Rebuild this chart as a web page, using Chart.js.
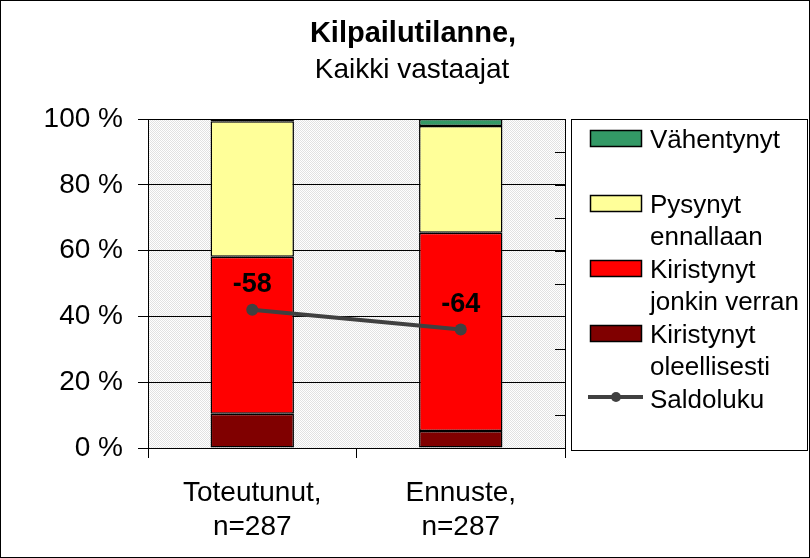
<!DOCTYPE html>
<html lang="fi">
<head>
<meta charset="UTF-8">
<title>Kilpailutilanne</title>
<script src="https://cdn.jsdelivr.net/npm/chart.js"></script>
<style>
  body { margin: 0; background: #fff; }
  #wrap { width: 810px; height: 558px; }
</style>
</head>
<body>
<div id="wrap"><canvas id="chart" width="810" height="558"></canvas></div>
<script>
// data
const categories = [['Toteutunut,', 'n=287'], ['Ennuste,', 'n=287']];
const oleellisesti = [10.4, 5.2];
const jonkinVerran = [47.7, 60.2];
const ennallaan = [41.2, 32.5];
const vahentynyt = [0.7, 2.1];
const saldoluku = [-58, -64];
const yTicks = [0, 20, 40, 60, 80, 100];

const FONT = "'Liberation Sans', Arial, sans-serif";
Chart.defaults.font.family = FONT;
Chart.defaults.color = '#000';

// stippled plot background like Excel's 5% pattern
const pc = document.createElement('canvas');
pc.width = 2; pc.height = 2;
const pctx = pc.getContext('2d');
pctx.fillStyle = '#fff'; pctx.fillRect(0, 0, 2, 2);
pctx.fillStyle = '#e2e2e2'; pctx.fillRect(0, 0, 1, 1); pctx.fillRect(1, 1, 1, 1);
const ctx = document.getElementById('chart').getContext('2d');
const pattern = ctx.createPattern(pc, 'repeat');

// legend order as in the picture
const legendItems = [
  { ds: 3, lines: ['Vähentynyt'] },
  { ds: 2, lines: ['Pysynyt', 'ennallaan'] },
  { ds: 1, lines: ['Kiristynyt', 'jonkin verran'] },
  { ds: 0, lines: ['Kiristynyt', 'oleellisesti'] },
  { ds: 4, lines: ['Saldoluku'] }
];

const extras = {
  id: 'extras',
  beforeDraw(chart) {
    const { ctx, chartArea: a } = chart;
    ctx.save();
    ctx.fillStyle = pattern;
    ctx.fillRect(a.left, a.top, a.right - a.left, a.bottom - a.top);
    ctx.restore();
  },
  afterDatasetsDraw(chart) {
    const { ctx } = chart;
    const meta = chart.getDatasetMeta(4);
    ctx.save();
    ctx.font = 'bold 27px ' + FONT;
    ctx.fillStyle = '#000';
    ctx.textAlign = 'center';
    ctx.textBaseline = 'middle';
    meta.data.forEach((pt, i) => {
      ctx.fillText(String(saldoluku[i]), pt.x, pt.y - 25);
    });
    ctx.restore();
  },
  afterDraw(chart) {
    const { ctx, chartArea: a } = chart;
    ctx.save();

    // inner ticks of the right axis
    const y2 = chart.scales.y2;
    ctx.strokeStyle = '#000';
    ctx.lineWidth = 1;
    y2.ticks.forEach(t => {
      const y = Math.round(y2.getPixelForValue(t.value)) + 0.5;
      ctx.beginPath();
      ctx.moveTo(a.right - 10, y);
      ctx.lineTo(a.right, y);
      ctx.stroke();
    });

    // title
    ctx.fillStyle = '#000';
    ctx.textAlign = 'center';
    ctx.textBaseline = 'alphabetic';
    ctx.font = 'bold 29px ' + FONT;
    ctx.fillText('Kilpailutilanne,', 413, 42);
    ctx.font = '28px ' + FONT;
    ctx.fillText('Kaikki vastaajat', 412, 78);

    // legend
    ctx.strokeStyle = '#000';
    ctx.strokeRect(571.5, 119.5, 236, 331);
    ctx.font = '26px ' + FONT;
    ctx.textAlign = 'left';
    legendItems.forEach((item, i) => {
      const ds = chart.data.datasets[item.ds];
      const base = 148 + i * 65;
      if (ds.type === 'line') {
        ctx.strokeStyle = ds.borderColor;
        ctx.lineWidth = 4;
        ctx.beginPath();
        ctx.moveTo(588, base - 11);
        ctx.lineTo(643, base - 11);
        ctx.stroke();
        ctx.fillStyle = ds.borderColor;
        ctx.beginPath();
        ctx.arc(616, base - 11, 5, 0, Math.PI * 2);
        ctx.fill();
      } else {
        ctx.fillStyle = ds.backgroundColor;
        ctx.fillRect(590, base - 18, 52, 16);
        ctx.strokeStyle = '#000';
        ctx.lineWidth = 1.5;
        ctx.strokeRect(590.5, base - 17.5, 51, 16);
      }
      ctx.fillStyle = '#000';
      item.lines.forEach((ln, j) => ctx.fillText(ln, 650, base + j * 32));
    });

    // outer frame
    ctx.strokeStyle = '#000';
    ctx.lineWidth = 1;
    ctx.strokeRect(0.5, 0.5, 809, 557);
    ctx.restore();
  }
};

const barDefaults = {
  borderColor: '#000',
  borderWidth: 1.5,
  borderSkipped: false,
  barPercentage: 0.4,
  categoryPercentage: 1.0,
  order: 1
};

new Chart(ctx, {
  type: 'bar',
  data: {
    labels: categories,
    datasets: [
      { ...barDefaults, label: 'Kiristynyt oleellisesti', data: oleellisesti, backgroundColor: '#800000' },
      { ...barDefaults, label: 'Kiristynyt jonkin verran', data: jonkinVerran, backgroundColor: '#ff0000' },
      { ...barDefaults, label: 'Pysynyt ennallaan', data: ennallaan, backgroundColor: '#ffff99' },
      { ...barDefaults, label: 'Vähentynyt', data: vahentynyt, backgroundColor: '#339966' },
      {
        type: 'line', label: 'Saldoluku', data: saldoluku, yAxisID: 'y2',
        borderColor: '#404040', backgroundColor: '#404040', borderWidth: 4,
        pointRadius: 6, pointBackgroundColor: '#404040', pointBorderWidth: 0,
        order: 0
      }
    ]
  },
  options: {
    responsive: false,
    animation: false,
    layout: { padding: { left: 0, top: 119, right: 245, bottom: 0 } },
    plugins: {
      legend: { display: false },
      tooltip: { enabled: false }
    },
    scales: {
      x: {
        stacked: true,
        grid: { drawOnChartArea: false, tickLength: 10, tickColor: '#000', offset: true },
        border: { color: '#000' },
        ticks: { font: { size: 28, lineHeight: 1.21 }, padding: 18, maxRotation: 0 },
        afterFit(s) { s.height = 110; }
      },
      y: {
        stacked: true,
        min: 0, max: 100,
        afterBuildTicks(s) { s.ticks = yTicks.map(v => ({ value: v })); },
        grid: { color: '#000', tickColor: '#000', tickLength: 10 },
        border: { color: '#000' },
        ticks: { font: { size: 28 }, padding: 15, callback: v => v + ' %' },
        afterFit(s) { s.width = 148; }
      },
      y2: {
        position: 'right',
        stacked: false,
        min: -100, max: 0,
        ticks: { display: false, stepSize: 10 },
        grid: { drawOnChartArea: false, drawTicks: false },
        border: { color: '#000' },
        afterFit(s) { s.width = 0; }
      }
    }
  },
  plugins: [extras]
});
</script>
</body>
</html>
